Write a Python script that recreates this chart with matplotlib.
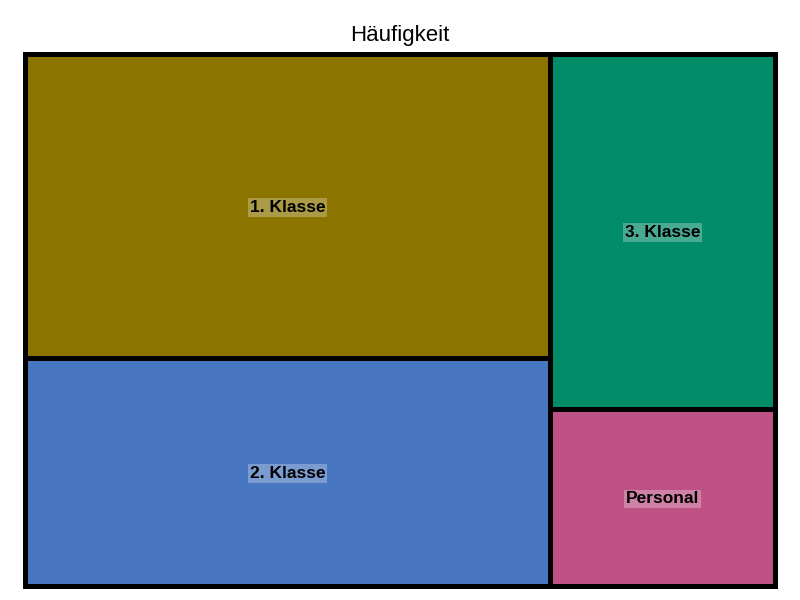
import matplotlib.pyplot as plt
from matplotlib.patches import Rectangle

plt.rcParams['font.family'] = ['Liberation Sans', 'DejaVu Sans']

categories = ['1. Klasse', '2. Klasse', '3. Klasse', 'Personal']
values = [40, 30, 20, 10]
colors = ['#8b7500', '#4876c0', '#028c68', '#be5284']
columns = [[0, 1], [2, 3]]  # which categories sit in which column

fig = plt.figure(figsize=(8, 6), dpi=100)
ax = fig.add_axes([0.031, 0.0233, 0.938, 0.887])

total = float(sum(values))
x0 = 0.0
for col in columns:
    col_sum = sum(values[i] for i in col)
    w = col_sum / total
    y_top = 1.0
    for i in col:
        h = values[i] / col_sum
        y0 = y_top - h
        ax.add_patch(Rectangle((x0, y0), w, h, facecolor=colors[i],
                               edgecolor='black', linewidth=3.6, clip_on=False))
        ax.text(x0 + w / 2, y0 + h / 2, categories[i], ha='center',
                va='center_baseline', fontsize=12.5, fontweight='bold',
                color='black',
                bbox=dict(boxstyle='square,pad=0.1', facecolor='white',
                          alpha=0.28, edgecolor='none'))
        y_top = y0
    x0 += w

ax.set_xlim(0, 1)
ax.set_ylim(0, 1)
ax.axis('off')
ax.set_title('Häufigkeit', fontsize=16, pad=9)

plt.savefig('out.png', dpi=100)
